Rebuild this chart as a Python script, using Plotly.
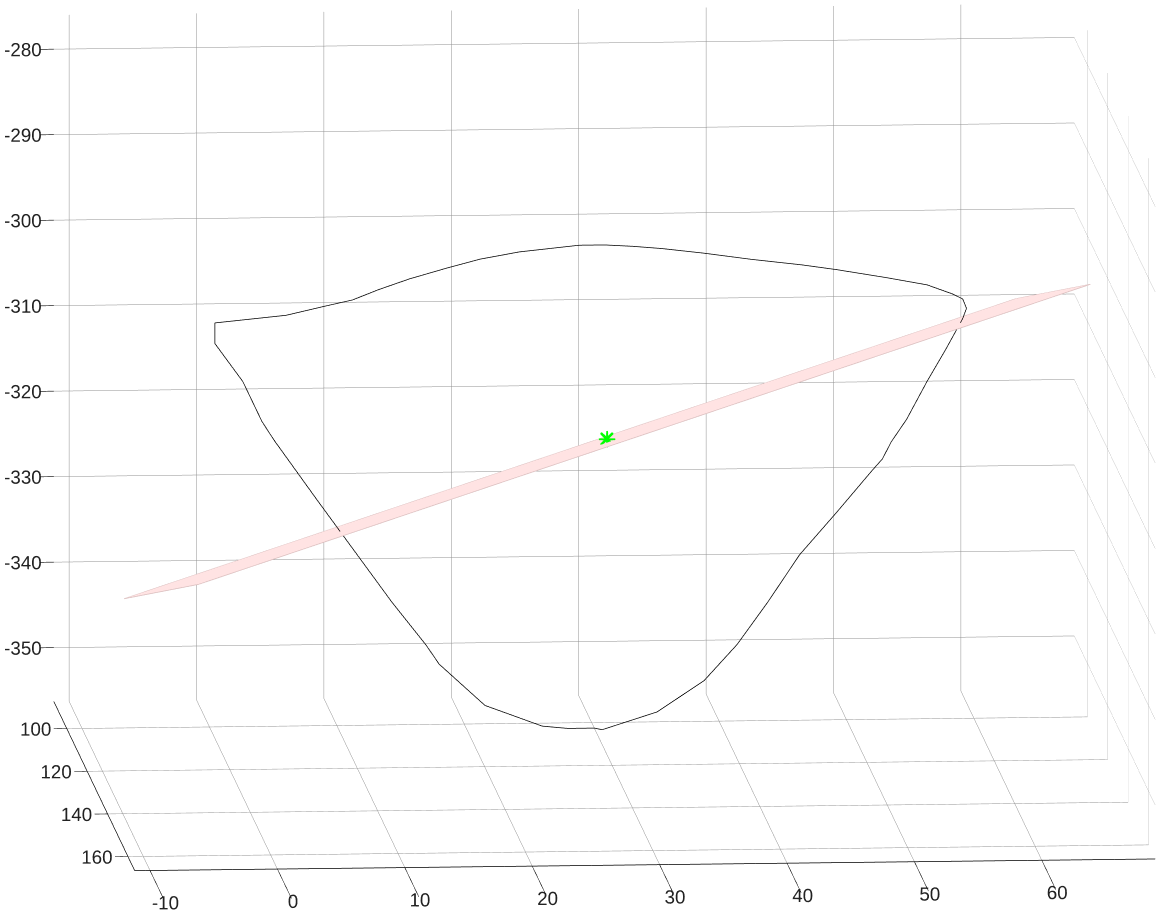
import plotly.graph_objects as go

# ---- data ----
curve_x = [-1.7, 3.9, 6.9, 9.1, 11.2, 13.6, 16.5, 19.1, 22.2, 26.9, 28.9, 31.1, 33.4, 36.7,
           40.5, 44.4, 47.1, 51.0, 54.2, 56.2, 57.0, 57.3, 57.0, 55.7, 54.2, 52.6, 51.4, 50.7,
           49.8, 47.1, 44.2, 41.7, 39.3, 36.7, 33.0, 28.7, 28.1, 26.0, 24.0, 19.5, 15.9, 14.9,
           12.2, 6.4, 3.0, 2.0, 0.5, -1.7, -1.7]
curve_z = [-302.4, -301.6, -300.6, -299.9, -298.7, -297.5, -296.3, -295.3, -294.5, -293.8,
           -293.8, -294.0, -294.3, -294.9, -295.7, -296.4, -297.0, -298.0, -298.9, -300.0,
           -300.6, -301.7, -302.9, -306.4, -310.2, -314.6, -317.2, -319.2, -320.7, -325.4,
           -330.3, -335.8, -340.7, -344.9, -348.5, -350.5, -350.3, -350.3, -350.0, -347.5,
           -342.6, -340.4, -335.3, -323.4, -316.3, -314.0, -309.3, -304.8, -302.4]
curve_y = [126.5] * len(curve_x)

plane_x = [-5.9, 64.1]
plane_y = [90.0, 163.0]
plane_z = [[-343.7, -309.8],
           [-323.8, -289.9]]

star_x = [28.5]
star_y = [133.6]
star_z = [-314.7]

x_ticks = [-10, 0, 10, 20, 30, 40, 50, 60]
y_ticks = [100, 120, 140, 160]
z_ticks = [-350, -340, -330, -320, -310, -300, -290, -280]

x_range = [-11.2, 68.9]
y_range = [166.6, 87.3]   # reversed
z_range = [-356.3, -276.0]

# ---- figure ----
fig = go.Figure()

fig.add_trace(go.Surface(
    x=plane_x, y=plane_y, z=plane_z,
    colorscale=[[0, '#ffe3e3'], [1, '#ffe3e3']], showscale=False,
    lighting=dict(ambient=1, diffuse=0, specular=0, roughness=1, fresnel=0),
    hoverinfo='skip'))

# plane outline
ox = [plane_x[0], plane_x[1], plane_x[1], plane_x[0], plane_x[0]]
oy = [plane_y[0], plane_y[0], plane_y[1], plane_y[1], plane_y[0]]
oz = [plane_z[0][0], plane_z[0][1], plane_z[1][1], plane_z[1][0], plane_z[0][0]]
fig.add_trace(go.Scatter3d(x=ox, y=oy, z=oz, mode='lines',
                           line=dict(color='#d9bcbc', width=1.5), hoverinfo='skip'))

fig.add_trace(go.Scatter3d(x=curve_x, y=curve_y, z=curve_z, mode='lines',
                           line=dict(color='black', width=1.5), hoverinfo='skip'))

for sym, sz in [('cross', 9), ('x', 3)]:
    fig.add_trace(go.Scatter3d(x=star_x, y=star_y, z=star_z, mode='markers',
                               marker=dict(symbol=sym, size=sz, color='#00ff00'),
                               hoverinfo='skip'))

tickfont = dict(family='Liberation Sans, Arial', size=15, color='#222222')
def ax(rng, vals, ticklen, line=True):
    return dict(range=rng, tickvals=vals, ticktext=[str(v) for v in vals],
                showgrid=True, gridcolor='#909090', gridwidth=1,
                showline=line, linecolor='black', linewidth=1.5,
                ticks='outside', ticklen=ticklen, tickcolor='black', tickwidth=1.2,
                tickangle=0,
                showbackground=False, zeroline=False, showspikes=False,
                title=dict(text=''), tickfont=tickfont, autorange=False)

# camera: view direction and a small pan so the box sits where it does in the reference
E = (-0.0730, -0.9852, 0.1549)
C = (-0.05036, -0.00436, -0.05147)
D = 4.0
fig.update_layout(
    width=1163, height=922,
    margin=dict(l=0, r=0, t=0, b=0),
    paper_bgcolor='white', showlegend=False,
    scene=dict(
        xaxis=ax(x_range, x_ticks, 13),
        yaxis=ax(y_range, y_ticks, 190),
        zaxis=ax(z_range, z_ticks, 13, line=False),
        aspectmode='manual',
        aspectratio=dict(x=2.2197, y=2.3756, z=1.5074),
        camera=dict(
            eye=dict(x=C[0] + D * E[0], y=C[1] + D * E[1], z=C[2] + D * E[2]),
            up=dict(x=0, y=0, z=1),
            center=dict(x=C[0], y=C[1], z=C[2]),
            projection=dict(type='orthographic')),
        domain=dict(x=[0, 1], y=[0, 1]),
        bgcolor='white',
    ),
)

fig.write_html('out.html', config={'displayModeBar': False})
